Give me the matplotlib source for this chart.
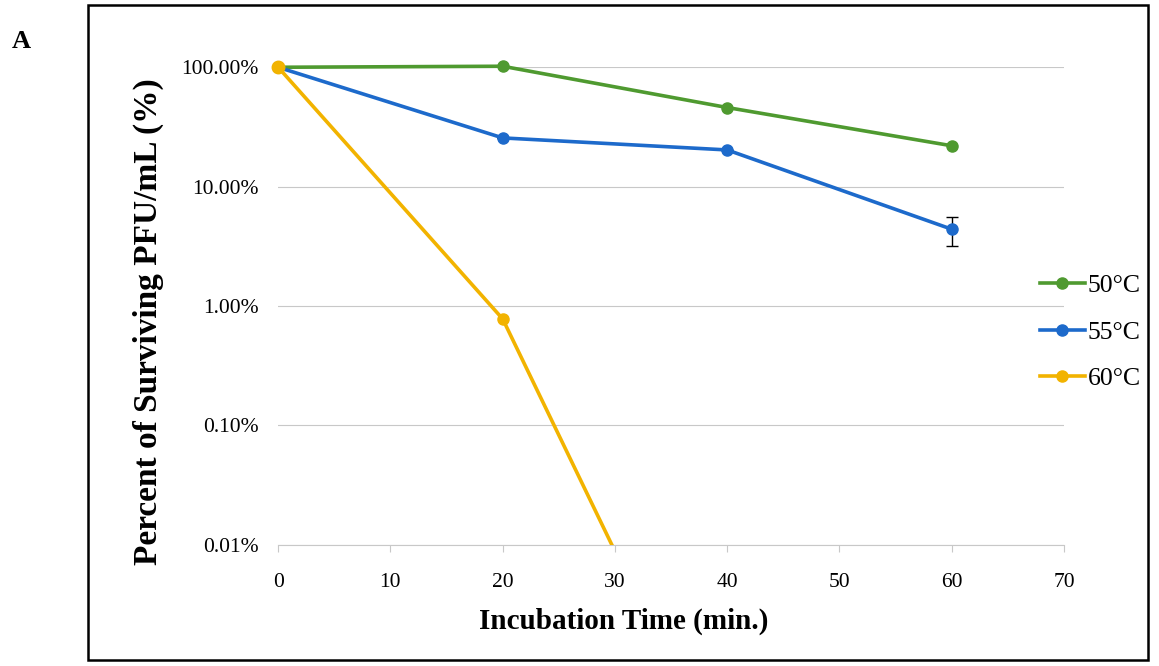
import matplotlib.pyplot as plt
from matplotlib.lines import Line2D
from matplotlib.patches import Rectangle

# incubation time (min) and surviving PFU/mL (%)
times = [0, 20, 40, 60]
surv_50 = [100, 102, 46, 22]
surv_55 = [100, 25.6, 20.3, 4.4]
err_55 = [0, 0, 0, 1.2]
# 60°C drops below the detection floor after 20 min
times_60 = [0, 20, 40]
surv_60 = [100, 0.78, 0.0001]

labels = ['50°C', '55°C', '60°C']
colors = ['#4f9a30', '#1d6acb', '#f2b300']

plt.rcParams['font.family'] = ['Liberation Serif', 'DejaVu Serif']

fig = plt.figure(figsize=(11.59, 6.66), dpi=100)
ax = fig.add_axes([0.240, 0.182, 0.678, 0.717])

ax.plot(times, surv_50, color=colors[0], lw=2.6, marker='o', ms=8, clip_on=False, zorder=3)
ax.errorbar(times, surv_55, yerr=err_55, color=colors[1], lw=2.6, marker='o', ms=8,
            ecolor='black', elinewidth=1, capsize=4, clip_on=False, zorder=3)
ax.plot(times_60, surv_60, color=colors[2], lw=2.6, marker='o', ms=8, zorder=4)
# starting point of 60°C sits on top, drawn unclipped
ax.plot(times_60[:1], surv_60[:1], color=colors[2], marker='o', ms=9, clip_on=False, zorder=5)

ax.set_yscale('log')
ax.set_ylim(0.01, 100)
ax.set_xlim(0, 70)
ax.set_xticks(range(0, 71, 10))
ax.set_yticks([0.01, 0.1, 1, 10, 100])
ax.set_yticklabels(['0.01%', '0.10%', '1.00%', '10.00%', '100.00%'])
ax.minorticks_off()
ax.grid(axis='y', color='#c8c8c8', lw=0.8)
ax.set_axisbelow(True)
for s in ['top', 'right', 'left']:
    ax.spines[s].set_visible(False)
ax.spines['bottom'].set_color('#c8c8c8')
ax.tick_params(axis='y', length=0, labelsize=15.5, pad=14)
ax.tick_params(axis='x', color='#c8c8c8', length=5, labelsize=15.5, labelcolor='black', pad=15)

ax.set_xlabel('Incubation Time (min.)', fontsize=21, fontweight='bold', va='center')
ax.xaxis.set_label_coords((624 - 278) / 786, (545 - 622) / 478)
ax.set_ylabel('Percent of Surviving PFU/mL (%)', fontsize=24, fontweight='bold', va='center')
ax.yaxis.set_label_coords((148 - 278) / 786, (545 - 322) / 478)

handles = [Line2D([], [], color=c, lw=2.6, marker='o', ms=8) for c in colors]
fig.legend(handles, labels, loc='upper left', bbox_to_anchor=(1040 / 1159, 1 - 274 / 666),
           frameon=False, fontsize=18.5, handlelength=1.75, handletextpad=0.1,
           labelspacing=0.92, borderpad=0, borderaxespad=0)

fig.patches.append(Rectangle((88 / 1159, 1 - 660 / 666), (1148 - 88) / 1159, (660 - 5) / 666,
                             transform=fig.transFigure, fill=False, ec='black', lw=1.8))
fig.text(12 / 1159, 1 - 41 / 666, 'A', fontsize=19, fontweight='bold', va='center')

fig.savefig('out.png', dpi=100)
